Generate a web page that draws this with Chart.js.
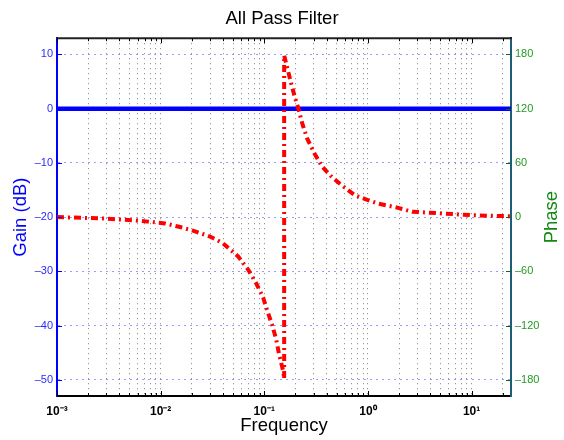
<!DOCTYPE html>
<html><head><meta charset="utf-8">
<script src="https://cdn.jsdelivr.net/npm/chart.js@4/dist/chart.umd.min.js"></script>
<style>html,body{margin:0;padding:0;background:#fff}</style>
</head><body>
<canvas id="c" width="564" height="440"></canvas>
<script>
// ---- data ----
const phaseFreq = [0.001, 0.00195, 0.00278, 0.00388, 0.00542, 0.00755, 0.0110, 0.0154, 0.0205, 0.030, 0.040, 0.0559, 0.0698, 0.0833, 0.0974, 0.1064, 0.1188, 0.130, 0.139, 0.1519, 0.1555,
                   0.1555, 0.166, 0.1815, 0.198, 0.212, 0.232, 0.259, 0.303, 0.361, 0.451, 0.576, 0.752, 0.940, 1.254, 1.91, 2.67, 3.73, 5.2, 7.43, 10.4, 15.1, 24];
const phaseDeg  = [0, -1, -1.5, -2.5, -3.5, -5, -7, -11, -15, -21.5, -29, -43.5, -58, -73, -89, -103, -119, -135, -152, -170, -179,
                   179, 166, 148, 132, 121, 104, 87, 71, 56, 44, 34, 24, 20, 15, 10.5, 6, 5, 4, 3, 2, 1.5, 1];
const gainFreq = [0.001, 0.01, 0.1, 1, 10, 24];
const gainDb   = [0, 0, 0, 0, 0, 0];
const xDecades = [0.001, 0.01, 0.1, 1, 10];
const xDecadeLabels = ['10\u207B\u00B3', '10\u207B\u00B2', '10\u207B\u00B9', '10\u2070', '10\u00B9'];
const gainTicks  = [-50, -40, -30, -20, -10, 0, 10];
const phaseTicks = [-180, -120, -60, 0, 60, 120, 180];
const phaseTitle = 'Phase';

const FONT = "'Liberation Sans', Arial, Helvetica, sans-serif";
const xMax = 24;
function xTickList() {
  const out = [];
  xDecades.forEach(d => { for (let k = 1; k <= 9; k++) { const v = d * k; if (v <= xMax * 1.0001) out.push({value: v, major: k === 1}); } });
  return out;
}
const dashLabel = v => String(v).replace('-', '\u2013');

const boxPlugin = {
  id: 'matlabBox',
  afterDatasetsDraw(chart) {
    const {ctx, chartArea: a, scales} = chart;
    ctx.save();
    ctx.lineCap = 'butt';
    ctx.strokeStyle = '#222'; ctx.lineWidth = 2;
    ctx.beginPath(); ctx.moveTo(a.left, a.top); ctx.lineTo(a.right + 1, a.top); ctx.stroke();
    ctx.lineWidth = 1; ctx.strokeStyle = '#000';
    scales.x.ticks.forEach(t => {
      const px = Math.round(scales.x.getPixelForValue(t.value)) + 0.5;
      const len = t.major ? 5 : 3;
      ctx.beginPath();
      ctx.moveTo(px, a.bottom); ctx.lineTo(px, a.bottom - len);
      ctx.moveTo(px, a.top); ctx.lineTo(px, a.top + len);
      ctx.stroke();
    });
    ctx.strokeStyle = '#0000ff';
    scales.y.ticks.forEach(t => {
      const py = Math.round(scales.y.getPixelForValue(t.value)) + 0.5;
      ctx.beginPath(); ctx.moveTo(a.left, py); ctx.lineTo(a.left + 5, py); ctx.stroke();
    });
    ctx.strokeStyle = '#116611';
    scales.y2.ticks.forEach(t => {
      const py = Math.round(scales.y2.getPixelForValue(t.value)) + 0.5;
      ctx.beginPath(); ctx.moveTo(a.right - 5, py); ctx.lineTo(a.right, py); ctx.stroke();
    });
    // right axis title, reading bottom-to-top like the reference
    const s2 = scales.y2;
    ctx.translate(s2.right - 12, (s2.top + s2.bottom) / 2);
    ctx.rotate(-Math.PI / 2);
    ctx.fillStyle = '#118811';
    ctx.font = "18.5px " + FONT;
    ctx.textAlign = 'center';
    ctx.textBaseline = 'middle';
    ctx.fillText(phaseTitle, 0, 0);
    ctx.restore();
  }
};

new Chart(document.getElementById('c'), {
  type: 'line',
  data: {
    datasets: [
      {
        label: 'Phase',
        yAxisID: 'y2',
        data: phaseFreq.map((f, i) => ({x: f, y: phaseDeg[i]})),
        borderColor: '#ff0000',
        borderWidth: 4,
        borderDash: [7, 4, 2, 4],
        pointRadius: 0,
        tension: 0,
        order: 0
      },
      {
        label: 'Gain',
        yAxisID: 'y',
        data: gainFreq.map((f, i) => ({x: f, y: gainDb[i]})),
        borderColor: '#0000ff',
        borderWidth: 4.5,
        pointRadius: 0,
        tension: 0,
        order: 1
      }
    ]
  },
  options: {
    responsive: false,
    devicePixelRatio: 1,
    animation: false,
    layout: {padding: 0},
    plugins: {
      legend: {display: false},
      tooltip: {enabled: false},
      title: {
        display: true,
        text: 'All Pass Filter',
        color: '#000',
        font: {family: FONT, size: 18.5, weight: 'normal'},
        padding: {top: 8, bottom: 8}
      }
    },
    scales: {
      x: {
        type: 'logarithmic',
        position: 'bottom',
        min: 0.001,
        max: xMax,
        afterBuildTicks: s => { s.ticks = xTickList(); },
        afterFit: s => { s.height = 44; },
        ticks: {
          autoSkip: false, maxRotation: 0, minRotation: 0,
          color: '#000',
          padding: 8,
          font: {family: FONT, size: 12, weight: 'bold'},
          callback: (v) => { const i = xDecades.findIndex(d => Math.abs(d - v) / d < 1e-6); return i >= 0 ? xDecadeLabels[i] : ''; }
        },
        grid: {color: 'rgba(0,0,0,0.5)', lineWidth: 1, drawTicks: false},
        border: {color: '#000', width: 2, dash: [1, 4]},
        title: {display: true, text: 'Frequency', color: '#000', font: {family: FONT, size: 18.5}, padding: {top: 0, bottom: 3}}
      },
      y: {
        type: 'linear',
        position: 'left',
        min: -53, max: 13,
        afterBuildTicks: s => { s.ticks = gainTicks.map(v => ({value: v})); },
        afterFit: s => { s.width = 57; },
        ticks: {color: '#2a2aff', padding: 4, font: {family: FONT, size: 11}, callback: dashLabel},
        grid: {color: 'rgba(90,90,255,0.6)', lineWidth: 1, drawTicks: false},
        border: {color: '#0000ff', width: 2, dash: [2, 4]},
        title: {display: true, text: 'Gain (dB)', color: '#0000ff', font: {family: FONT, size: 18.5}, padding: {top: 10, bottom: 0}}
      },
      y2: {
        type: 'linear',
        position: 'right',
        min: -198, max: 198,
        afterBuildTicks: s => { s.ticks = phaseTicks.map(v => ({value: v})); },
        afterFit: s => { s.width = 53; },
        ticks: {color: '#229922', padding: 4, font: {family: FONT, size: 11}, callback: dashLabel},
        grid: {drawOnChartArea: false, drawTicks: false},
        border: {color: '#1f5c7a', width: 2},
        title: {display: false}
      }
    }
  },
  plugins: [boxPlugin]
});
</script>
</body></html>
